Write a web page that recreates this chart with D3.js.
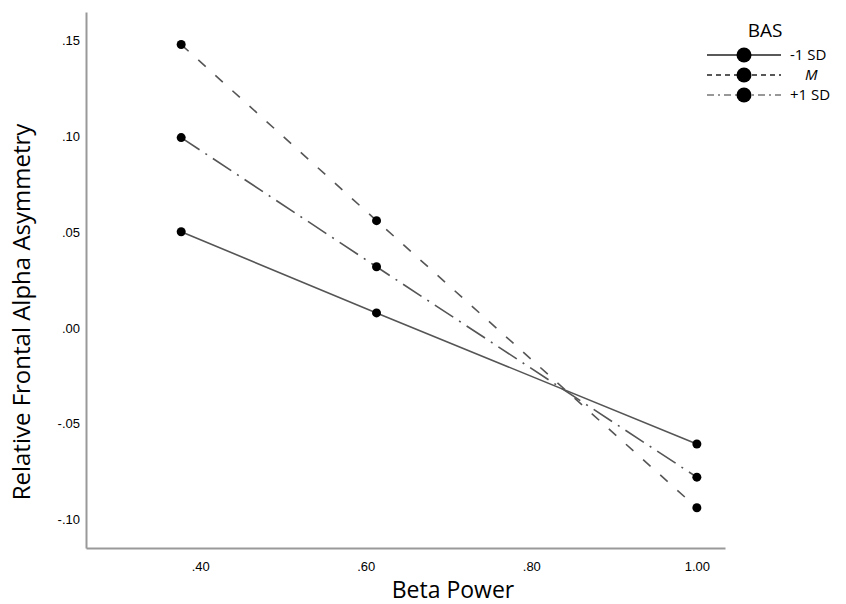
<!DOCTYPE html>
<html>
<head>
<meta charset="utf-8">
<script src="https://cdn.jsdelivr.net/npm/d3@7"></script>
<style>
  body { margin: 0; background: #fff; }
  svg text { fill: #000; }
</style>
</head>
<body>
<div id="chart"></div>
<script>
// data
var xValues = [0.377, 0.613, 1.0];
var seriesNames = ["-1 SD", "M", "+1 SD"];
var lowValues = [0.0502, 0.0078, -0.0607];
var meanValues = [0.148, 0.056, -0.094];
var highValues = [0.0994, 0.0319, -0.078];
var xTicks = [0.4, 0.6, 0.8, 1.0];
var yTicks = [-0.10, -0.05, 0.0, 0.05, 0.10, 0.15];

var width = 846;
var height = 604;

var svg = d3
  .select("#chart")
  .append("svg")
  .attr("width", width)
  .attr("height", height);

var x = d3.scaleLinear().domain([0.262, 1.034]).range([86, 725]);
var y = d3.scaleLinear().domain([-0.115, 0.165]).range([548, 12]);

var series = [
  { name: seriesNames[0], values: lowValues, dash: null, stroke: "#555", legendStroke: "#222" },
  { name: seriesNames[1], values: meanValues, dash: "10,13", stroke: "#555", legendStroke: "#222" },
  { name: seriesNames[2], values: highValues, dash: "22,7,2,7", stroke: "#555", legendStroke: "#777" }
];

// SPSS style numbers: ".40", "-.05"
function spss(d) {
  var s = d3.format(".2f")(Math.abs(d));
  if (Math.abs(d) < 1) s = s.replace(/^0/, "");
  return (d < -1e-9 ? "-" : "") + s;
}

// axes: no tick marks, gray frame on left and bottom
var xAxis = d3.axisBottom(x)
  .tickValues(xTicks)
  .tickSize(0)
  .tickPadding(14)
  .tickFormat(spss);

var yAxis = d3.axisLeft(y)
  .tickValues(yTicks)
  .tickSize(0)
  .tickPadding(6)
  .tickFormat(spss);

var gx = svg.append("g").attr("transform", "translate(0,548)").call(xAxis);
var gy = svg.append("g").attr("transform", "translate(86,0)").call(yAxis);

[gx, gy].forEach(function(g) {
  g.select(".domain").attr("stroke", "#999").attr("stroke-width", 2);
  g.selectAll("text")
    .attr("font-family", "Liberation Sans, Arial, sans-serif")
    .attr("font-size", 13)
    .attr("fill", "#000");
});

// axis titles
svg.append("text")
  .attr("x", 453)
  .attr("y", 598)
  .attr("text-anchor", "middle")
  .attr("font-family", "Open Sans, sans-serif")
  .attr("font-size", 23)
  .text("Beta Power");

svg.append("text")
  .attr("transform", "translate(30,312) rotate(-90)")
  .attr("text-anchor", "middle")
  .attr("font-family", "Open Sans, sans-serif")
  .attr("font-size", 24)
  .text("Relative Frontal Alpha Asymmetry");

// lines
var line = d3.line()
  .x(function(d, i) { return x(xValues[i]); })
  .y(function(d) { return y(d); });

series.forEach(function(s) {
  svg.append("path")
    .datum(s.values)
    .attr("d", line)
    .attr("fill", "none")
    .attr("stroke", s.stroke)
    .attr("stroke-width", 1.6)
    .attr("stroke-dasharray", s.dash);

  svg.selectAll(null)
    .data(s.values)
    .enter()
    .append("circle")
    .attr("cx", function(d, i) { return x(xValues[i]); })
    .attr("cy", function(d) { return y(d); })
    .attr("r", 4.5)
    .attr("fill", "#000");
});

// legend
var legend = svg.append("g").attr("transform", "translate(707,0)");

legend.append("text")
  .attr("x", 58)
  .attr("y", 37)
  .attr("text-anchor", "middle")
  .attr("font-family", "Open Sans, sans-serif")
  .attr("font-size", 19)
  .text("BAS");

series.forEach(function(s, i) {
  var ly = 55 + i * 20;
  legend.append("line")
    .attr("x1", 0)
    .attr("x2", 74)
    .attr("y1", ly)
    .attr("y2", ly)
    .attr("stroke", s.legendStroke)
    .attr("stroke-width", 1.6)
    .attr("stroke-dasharray", i === 0 ? null : (i === 1 ? "5,4" : "7,4,2,4"));
  legend.append("circle")
    .attr("cx", 37)
    .attr("cy", ly)
    .attr("r", 7.5)
    .attr("fill", "#000");
  legend.append("text")
    .attr("x", i === 1 ? 98 : 83)
    .attr("y", ly + 5)
    .attr("font-family", "Open Sans, sans-serif")
    .attr("font-size", 15)
    .attr("font-style", i === 1 ? "italic" : "normal")
    .text(s.name);
});
</script>
</body>
</html>
